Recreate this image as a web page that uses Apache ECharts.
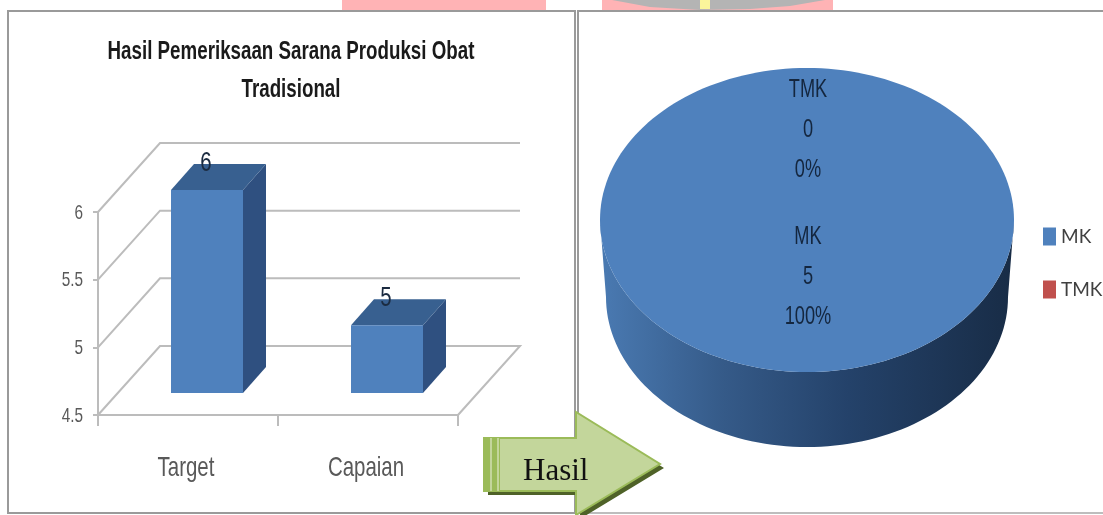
<!DOCTYPE html>
<html lang="en">
<head>
    <meta charset="UTF-8">
    <title>Hasil Pemeriksaan Sarana Produksi Obat Tradisional</title>
    <script src="https://cdn.jsdelivr.net/npm/echarts@6/dist/echarts.min.js"></script>
    <style>
        html, body { margin: 0; padding: 0; background: #fff; }
    </style>
</head>
<body>
<div id="main" style="width: 1103px;height:515px;"></div>
<script type="text/javascript">
    var categories = ['Target', 'Capaian'];
    var barValues = [6, 5];
    var yTicks = [4.5, 5, 5.5, 6];
    var pieNames = ['MK', 'TMK'];
    var pieValues = [5, 0];

    var sans = '"Liberation Sans", sans-serif';
    var total = pieValues.reduce(function (a, b) { return a + b; }, 0);

    // 3d offsets of the walls and the bars
    var wallDx = 62, wallDy = -69;
    var barFrontDx = 19, barFrontDy = -22, barHalf = 36, barDx = 23, barDy = -26;

    // pie ellipse
    var pieX = 807, pieY = 220, pieRx = 207, pieRy = 152;
    var pieSideY = 297, pieSideRx = 201, pieSideRy = 150;

    // the original font is a condensed one, none is installed so squeeze it
    function squeezed(text, x, y, font, color, align, scale) {
        return {
            type: 'text',
            x: x,
            y: y,
            scaleX: scale || 0.73,
            z2: 10,
            style: {
                text: text,
                x: 0,
                y: 0,
                align: align || 'center',
                verticalAlign: 'middle',
                font: font,
                fill: color
            }
        };
    }

    function renderWall(params, api) {
        var sys = params.coordSys;
        var value = api.value(1);
        var y = api.coord([0, value])[1];
        var x0 = sys.x, x1 = sys.x + sys.width;
        var pts = [[x0, y], [x0 + wallDx, y + wallDy], [x1 + wallDx, y + wallDy]];
        if (params.dataIndex === 0) {
            pts.push([x1, y]);
        }
        return {
            type: 'group',
            children: [
                {
                    type: 'polyline',
                    shape: {points: pts},
                    style: {stroke: '#bcbcbc', lineWidth: 2, fill: null}
                },
                squeezed(String(value), x0 - 15, y + 1, '21px ' + sans, '#595959', 'right')
            ]
        };
    }

    function renderBar(params, api) {
        var top = api.coord([api.value(0), api.value(1)]);
        var base = api.coord([api.value(0), yTicks[0]]);
        var l = top[0] + barFrontDx - barHalf;
        var r = top[0] + barFrontDx + barHalf;
        var t = top[1] + barFrontDy;
        var b = base[1] + barFrontDy;
        return {
            type: 'group',
            children: [
                {
                    type: 'polygon',
                    shape: {points: [[r, t], [r + barDx, t + barDy], [r + barDx, b + barDy], [r, b]]},
                    style: {fill: '#2f5080'}
                },
                {
                    type: 'polygon',
                    shape: {points: [[l, t], [l + barDx, t + barDy], [r + barDx, t + barDy], [r, t]]},
                    style: {fill: '#386090'}
                },
                {
                    type: 'rect',
                    shape: {x: l, y: t, width: r - l, height: b - t},
                    style: {fill: '#4f81bd'}
                },
                squeezed(String(api.value(1)), (l + r) / 2 - 1, t - 27, '28px ' + sans, '#1b2b40'),
                // category label under the axis
                squeezed(categories[api.value(0)], base[0] - 2, base[1] + 53, '28px ' + sans, '#595959')
            ]
        };
    }

    function ellipsePoint(cx, cy, rx, ry, deg) {
        var a = deg * Math.PI / 180;
        return [cx + rx * Math.cos(a), cy + ry * Math.sin(a)];
    }

    // one slice of the pie, angles run clockwise from 12 o'clock
    function pieRenderer(index, color) {
        return function () {
            var before = 0;
            for (var i = 0; i < index; i++) {
                before += pieValues[i];
            }
            var start = -90 + 360 * before / total;
            var sweep = 360 * pieValues[index] / total;
            var children = [];
            var top = [], side = [], lower = [], d;
            if (sweep > 0) {
                if (sweep < 360) {
                    top.push([pieX, pieY]);
                }
                for (d = 0; d <= sweep; d += 2) {
                    top.push(ellipsePoint(pieX, pieY, pieRx, pieRy, start + d));
                }
                var from = Math.max(start, 0), to = Math.min(start + sweep, 180);
                for (d = from; d <= to; d += 2) {
                    side.push(ellipsePoint(pieX, pieY, pieRx, pieRy, d));
                    lower.unshift(ellipsePoint(pieX, pieSideY, pieSideRx, pieSideRy, d));
                }
                children.push({
                    type: 'polygon',
                    shape: {points: side.concat(lower)},
                    style: {
                        fill: new echarts.graphic.LinearGradient(0, 0, 1, 0, [
                            {offset: 0, color: '#4a7ab2'},
                            {offset: 0.3, color: '#355a88'},
                            {offset: 0.6, color: '#24426a'},
                            {offset: 1, color: '#182c46'}
                        ])
                    }
                });
                children.push({
                    type: 'polygon',
                    shape: {points: top},
                    style: {fill: color}
                });
            }
            // labels: name, value, percent
            var labelTop = index === 0 ? 237 : 90;
            var lines = [pieNames[index], String(pieValues[index]), Math.round(100 * pieValues[index] / total) + '%'];
            lines.forEach(function (line, n) {
                children.push(squeezed(line, pieX + 1, labelTop + n * 40, '26px ' + sans, '#14263e', 'center', 0.7));
            });
            return {type: 'group', children: children};
        };
    }

    var myChart = echarts.init(document.getElementById('main'));

    myChart.setOption({
        animation: false,
        backgroundColor: '#fff',
        legend: {
            data: pieNames,
            orient: 'vertical',
            left: 1038,
            top: 222,
            icon: 'rect',
            itemWidth: 13,
            itemHeight: 18,
            itemGap: 34,
            textStyle: {fontFamily: 'Lato', fontSize: 19, color: '#404040'}
        },
        grid: {left: 98, top: 212, width: 360, height: 203},
        xAxis: {
            type: 'category',
            data: categories,
            axisLine: {lineStyle: {color: '#bcbcbc', width: 2}},
            axisTick: {show: true, length: 11, lineStyle: {color: '#bcbcbc', width: 2}},
            axisLabel: {show: false}
        },
        yAxis: {
            type: 'value',
            min: 4.5,
            max: 6,
            interval: 0.5,
            splitLine: {show: false},
            axisLine: {show: true, lineStyle: {color: '#bcbcbc', width: 2}},
            axisTick: {show: true, length: 5, lineStyle: {color: '#bcbcbc', width: 2}},
            axisLabel: {show: false}
        },
        series: [
            {
                type: 'custom',
                name: 'Walls',
                renderItem: renderWall,
                silent: true,
                z: 1,
                data: yTicks.map(function (v) { return [0, v]; })
            },
            {
                type: 'custom',
                name: 'Hasil',
                renderItem: renderBar,
                z: 2,
                data: barValues.map(function (v, i) { return [i, v]; })
            },
            {
                type: 'custom',
                name: pieNames[0],
                coordinateSystem: 'none',
                renderItem: pieRenderer(0, '#4f81bd'),
                itemStyle: {color: '#4f81bd'},
                z: 3,
                data: [pieValues[0]]
            },
            {
                type: 'custom',
                name: pieNames[1],
                coordinateSystem: 'none',
                renderItem: pieRenderer(1, '#c0504d'),
                itemStyle: {color: '#c0504d'},
                z: 4,
                data: [pieValues[1]]
            }
        ],
        graphic: [
            // bit of the logo sticking out above the panels
            {type: 'rect', z: -10, shape: {x: 342, y: 0, width: 204, height: 10}, style: {fill: '#ffb3b5'}},
            {type: 'rect', z: -10, shape: {x: 602, y: 0, width: 231, height: 10}, style: {fill: '#ffb3b5'}},
            {type: 'polygon', z: -9, shape: {points: [[612, 0], [825, 0], [790, 6], [750, 9], [700, 10], [650, 7]]}, style: {fill: '#b4b4b4'}},
            {type: 'rect', z: -8, shape: {x: 700, y: 0, width: 10, height: 9}, style: {fill: '#fbf59b'}},
            // panels
            {type: 'rect', z: -5, shape: {x: 8, y: 11, width: 567, height: 502}, style: {fill: '#fff', stroke: '#9a9a9a', lineWidth: 2}},
            {type: 'polyline', z: -5, shape: {points: [[578, 513], [578, 11], [1103, 11]]}, style: {fill: null, stroke: '#9a9a9a', lineWidth: 2}},
            {type: 'line', z: -5, shape: {x1: 575, y1: 513, x2: 1103, y2: 513}, style: {stroke: '#bdbdbd', lineWidth: 2}},
            // title
            {
                type: 'text', z: 5, x: 291, y: 52, scaleX: 0.75,
                style: {text: 'Hasil Pemeriksaan Sarana Produksi Obat', align: 'center', verticalAlign: 'middle', font: 'bold 25px ' + sans, fill: '#1a1a1a'}
            },
            {
                type: 'text', z: 5, x: 291, y: 90, scaleX: 0.75,
                style: {text: 'Tradisional', align: 'center', verticalAlign: 'middle', font: 'bold 25px ' + sans, fill: '#1a1a1a'}
            },
            // arrow
            {
                type: 'polygon', z: 100,
                shape: {points: [[488, 442], [580, 442], [580, 416], [664, 468], [580, 519], [580, 495], [488, 495]]},
                style: {fill: '#4f6228'}
            },
            {
                type: 'polygon', z: 101,
                shape: {points: [[484, 438], [576, 438], [576, 412], [660, 464], [576, 515], [576, 491], [484, 491]]},
                style: {fill: '#c3d69b', stroke: '#9bbb59', lineWidth: 2}
            },
            {type: 'rect', z: 102, shape: {x: 484, y: 438, width: 16, height: 53}, style: {fill: '#9bbb59'}},
            {type: 'rect', z: 103, shape: {x: 490, y: 438, width: 2, height: 53}, style: {fill: '#c3d69b'}},
            {type: 'rect', z: 103, shape: {x: 497, y: 438, width: 2, height: 53}, style: {fill: '#c3d69b'}},
            {
                type: 'text', z: 104,
                style: {
                    text: 'Hasil',
                    x: 523,
                    y: 472,
                    verticalAlign: 'middle',
                    font: '31px "Liberation Serif", serif',
                    fill: '#111'
                }
            }
        ]
    });
</script>
</body>
</html>
